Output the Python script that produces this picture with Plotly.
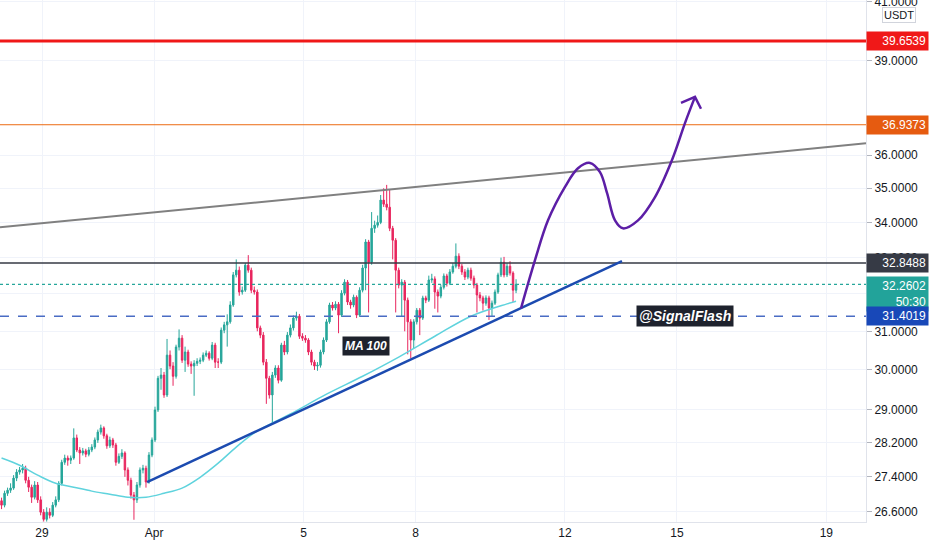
import numpy as np
import pandas as pd
import plotly.graph_objects as go

FONT = "Liberation Sans, Arial"

# 2h-ish candles, first one on Mar 27 late evening
candle_start = "2021-03-27 22:00"
candle_step = "116min"

opens = [
    26.85, 26.75, 27.02, 27.09, 27.14, 27.37, 27.51, 27.56, 27.60, 27.32, 27.16, 26.93,
    27.21, 26.87, 26.59, 26.43, 26.59, 26.52, 26.75, 26.87, 27.25, 27.74, 27.84, 27.79,
    27.84, 28.32, 28.03, 27.96, 28.01, 27.93, 28.03, 28.10, 28.27, 28.46, 28.56, 28.37,
    28.13, 28.27, 28.15, 27.74, 27.88, 27.96, 27.56, 27.32, 26.98, 26.87, 27.21, 27.56,
    27.60, 27.28, 27.91, 28.27, 29.00, 29.79, 29.87, 29.37, 30.38, 30.10, 29.84, 30.59,
    30.82, 30.25, 30.46, 30.15, 30.10, 30.17, 30.22, 30.25, 30.38, 30.43, 30.30, 30.64,
    30.20, 30.20, 31.03, 31.17, 31.25, 31.70, 32.52, 32.65, 32.05, 32.10, 32.79, 32.65,
    32.10, 32.05, 31.09, 30.90, 30.20, 29.79, 29.37, 29.87, 30.05, 29.74, 30.64, 30.46,
    30.90, 31.09, 31.35, 31.40, 30.87, 30.82, 30.77, 30.46, 30.20, 30.10, 30.12, 30.46,
    30.77, 31.25, 31.70, 31.62, 31.72, 31.43, 32.02, 32.32, 31.78, 31.70, 31.91, 31.43,
    32.10, 32.71, 33.44, 32.87, 33.83, 33.92, 34.00, 34.65, 34.53, 34.44, 33.83, 33.49,
    32.65, 32.24, 32.32, 31.83, 31.25, 30.77, 31.25, 31.56, 31.35, 31.89, 31.83, 32.38,
    32.41, 32.05, 31.94, 32.18, 32.49, 32.29, 32.60, 32.76, 33.04, 32.76, 32.60, 32.46,
    32.65, 32.43, 32.24, 31.97, 31.89, 31.75, 31.89, 31.62, 31.75, 32.05, 32.52, 32.87,
    32.52, 32.76, 32.57, 32.10,
]
highs = [
    26.92, 27.08, 27.15, 27.25, 27.44, 27.58, 27.63, 27.70, 27.66, 27.40, 27.22, 27.30,
    27.28, 26.95, 26.66, 26.70, 26.68, 26.82, 26.95, 27.30, 27.80, 27.92, 27.90, 27.90,
    28.55, 28.40, 28.10, 28.08, 28.06, 28.10, 28.17, 28.33, 28.52, 28.64, 28.60, 28.42,
    28.35, 28.32, 28.20, 27.95, 28.05, 28.00, 27.62, 27.38, 27.05, 27.28, 27.62, 27.68,
    27.66, 27.98, 28.33, 29.08, 29.85, 30.05, 29.95, 30.80, 30.50, 30.20, 30.65, 31.05,
    30.90, 30.60, 30.52, 30.22, 30.25, 30.30, 30.32, 30.45, 30.50, 30.48, 30.72, 30.70,
    30.30, 31.10, 31.25, 31.45, 31.80, 32.60, 32.95, 32.75, 32.20, 32.85, 33.07, 32.72,
    32.20, 32.12, 31.15, 30.98, 30.28, 29.85, 29.95, 30.12, 30.12, 30.70, 30.75, 30.98,
    31.18, 31.42, 31.52, 31.46, 30.95, 30.90, 30.82, 30.52, 30.26, 30.20, 30.52, 30.84,
    31.32, 31.76, 31.78, 31.80, 31.78, 32.10, 32.40, 32.38, 31.84, 31.98, 31.96, 32.18,
    32.80, 33.52, 33.50, 34.30, 34.05, 34.20, 34.80, 35.00, 35.10, 34.95, 33.90, 33.55,
    32.72, 32.40, 32.38, 31.90, 31.32, 31.32, 31.62, 31.62, 31.95, 31.95, 32.50, 32.55,
    32.48, 32.12, 32.25, 32.56, 32.55, 32.68, 32.85, 33.40, 33.12, 32.82, 32.68, 32.72,
    32.72, 32.50, 32.30, 32.05, 31.95, 31.96, 31.95, 31.82, 32.12, 32.58, 33.00, 33.02,
    32.85, 32.90, 32.62, 32.40,
]
lows = [
    26.66, 26.70, 26.96, 27.03, 27.10, 27.30, 27.45, 27.48, 27.25, 27.05, 26.80, 26.88,
    26.80, 26.52, 26.38, 26.38, 26.45, 26.48, 26.70, 26.82, 27.20, 27.68, 27.66, 27.70,
    27.80, 27.98, 27.70, 27.90, 27.86, 27.88, 27.98, 28.05, 28.20, 28.40, 28.30, 28.06,
    28.08, 28.08, 27.66, 27.70, 27.82, 27.40, 27.20, 26.90, 26.42, 26.80, 27.15, 27.48,
    27.15, 27.24, 27.86, 28.22, 28.95, 29.50, 29.30, 29.32, 30.02, 29.60, 29.78, 30.50,
    30.18, 29.95, 30.08, 29.90, 29.35, 30.10, 30.15, 30.20, 30.33, 30.24, 30.25, 30.05,
    30.05, 30.15, 30.95, 30.60, 31.20, 31.65, 32.45, 31.95, 31.98, 32.05, 32.58, 32.02,
    31.98, 31.00, 30.82, 30.12, 29.15, 29.28, 28.68, 29.80, 29.66, 29.70, 30.38, 30.40,
    30.84, 31.02, 31.28, 30.80, 30.75, 30.70, 30.38, 30.12, 30.00, 29.98, 30.06, 30.40,
    30.72, 31.20, 31.55, 31.56, 30.95, 31.38, 31.96, 31.70, 31.60, 31.64, 31.35, 31.38,
    32.04, 32.10, 31.50, 32.80, 33.70, 33.85, 33.95, 34.45, 34.35, 33.75, 32.95, 31.50,
    32.15, 31.40, 31.00, 30.40, 30.30, 30.55, 31.18, 30.90, 31.30, 31.75, 31.78, 32.30,
    31.60, 31.50, 31.88, 32.12, 32.20, 32.24, 32.55, 32.70, 32.68, 32.52, 32.38, 32.40,
    32.36, 32.15, 31.50, 31.80, 31.55, 31.68, 31.30, 31.40, 31.70, 32.00, 32.46, 32.45,
    32.46, 32.50, 31.78, 32.02,
]
closes = [
    26.75, 27.02, 27.09, 27.14, 27.37, 27.51, 27.56, 27.60, 27.32, 27.16, 26.93, 27.21,
    26.87, 26.59, 26.43, 26.59, 26.52, 26.75, 26.87, 27.25, 27.74, 27.84, 27.79, 27.84,
    28.32, 28.03, 27.96, 28.01, 27.93, 28.03, 28.10, 28.27, 28.46, 28.56, 28.37, 28.13,
    28.27, 28.15, 27.74, 27.88, 27.96, 27.56, 27.32, 26.98, 26.87, 27.21, 27.56, 27.60,
    27.28, 27.91, 28.27, 29.00, 29.79, 29.87, 29.37, 30.38, 30.10, 29.84, 30.59, 30.82,
    30.25, 30.46, 30.15, 30.10, 30.17, 30.22, 30.25, 30.38, 30.43, 30.30, 30.64, 30.20,
    30.20, 31.03, 31.17, 31.25, 31.70, 32.52, 32.65, 32.05, 32.10, 32.79, 32.65, 32.10,
    32.05, 31.09, 30.90, 30.20, 29.79, 29.37, 29.87, 30.05, 29.74, 30.64, 30.46, 30.90,
    31.09, 31.35, 31.40, 30.87, 30.82, 30.77, 30.46, 30.20, 30.10, 30.12, 30.46, 30.77,
    31.25, 31.70, 31.62, 31.72, 31.43, 32.02, 32.32, 31.78, 31.70, 31.91, 31.43, 32.10,
    32.71, 33.44, 32.87, 33.83, 33.92, 34.00, 34.65, 34.53, 34.44, 33.83, 33.49, 32.65,
    32.24, 32.32, 31.83, 31.25, 30.77, 31.25, 31.56, 31.35, 31.89, 31.83, 32.38, 32.41,
    32.05, 31.94, 32.18, 32.49, 32.29, 32.60, 32.76, 33.04, 32.76, 32.60, 32.46, 32.65,
    32.43, 32.24, 31.97, 31.89, 31.75, 31.89, 31.62, 31.75, 32.05, 32.52, 32.87, 32.52,
    32.76, 32.57, 32.10, 32.26,
]

# MA 100 at some candles
ma_idx = [0, 6, 12, 18, 24, 30, 36, 42, 48, 54, 60, 66, 72, 78, 84, 90, 96,
          108, 120, 132, 144, 156, 168, 171]
ma_vals = [27.84, 27.67, 27.44, 27.25, 27.16, 27.07, 27.00, 26.93, 26.93, 27.02,
           27.14, 27.39, 27.72, 28.10, 28.44, 28.68, 28.90, 29.39, 29.84, 30.33,
           30.87, 31.40, 31.73, 31.80]

# horizontal levels
red_level = 39.6539
orange_level = 36.9373
dark_level = 32.8488
last_price = 32.2602
blue_level = 31.4019
countdown = "50:30"

# drawings
x_start = "2021-03-27 21:00"
x_end = "2021-04-20 01:28"
channel_x = [x_start, x_end]
channel_y = [33.86, 36.36]
support_x = ["2021-03-31 19:30", "2021-04-13 12:40"]
support_y = [27.28, 32.90]
path_x = ["2021-04-10 19:47", "2021-04-11 04:46", "2021-04-11 13:08", "2021-04-12 00:03",
          "2021-04-12 08:24", "2021-04-12 16:08", "2021-04-12 22:32", "2021-04-13 03:03",
          "2021-04-13 08:11", "2021-04-13 13:19", "2021-04-13 22:58", "2021-04-14 09:53",
          "2021-04-14 20:49", "2021-04-15 05:09", "2021-04-15 11:35"]
path_y = [31.61, 32.93, 34.06, 35.04, 35.60, 35.76, 35.48, 34.86, 34.06, 33.83,
          34.06, 34.74, 35.85, 36.99, 37.82]
head_x = ["2021-04-15 02:35", "2021-04-15 11:35", "2021-04-15 15:26"]
head_y = [37.63, 37.82, 37.44]

y_ticks = [26.6, 27.4, 28.2, 29, 30, 31, 32, 33, 34, 35, 36, 39, 41]
x_ticks = ["2021-03-29", "2021-04-01", "2021-04-05", "2021-04-08",
           "2021-04-12", "2021-04-15", "2021-04-19"]
x_ticklabels = ["29", "Apr", "5", "8", "12", "15", "19"]

times = pd.date_range(candle_start, periods=len(closes), freq=candle_step)

fig = go.Figure()

fig.add_trace(go.Candlestick(
    x=times, open=opens, high=highs, low=lows, close=closes,
    increasing=dict(line=dict(color="#26a69a", width=1), fillcolor="#26a69a"),
    decreasing=dict(line=dict(color="#e8265e", width=1), fillcolor="#e8265e"),
    whiskerwidth=0, hoverinfo="skip",
))

fig.add_trace(go.Scatter(
    x=times[ma_idx], y=ma_vals, mode="lines",
    line=dict(color="#5fd3dd", width=1.5, shape="spline"), hoverinfo="skip",
))


def hline(level, color, width, dash="solid"):
    fig.add_trace(go.Scatter(
        x=[x_start, x_end], y=[level, level], mode="lines",
        line=dict(color=color, width=width, dash=dash), hoverinfo="skip",
    ))


hline(red_level, "#f01818", 3)
hline(orange_level, "#ec6a12", 1)
hline(dark_level, "#363a45", 1.3)
hline(last_price, "#26a69a", 1.2, "dot")
hline(blue_level, "#4a6cc4", 1.5, "dash")

fig.add_trace(go.Scatter(x=channel_x, y=channel_y, mode="lines",
                         line=dict(color="#808080", width=2), hoverinfo="skip"))
fig.add_trace(go.Scatter(x=support_x, y=support_y, mode="lines",
                         line=dict(color="#1c4bb0", width=2.5), hoverinfo="skip"))
fig.add_trace(go.Scatter(x=path_x, y=path_y, mode="lines",
                         line=dict(color="#5c1ea6", width=2.5, shape="spline"),
                         hoverinfo="skip"))
fig.add_trace(go.Scatter(x=head_x, y=head_y, mode="lines",
                         line=dict(color="#5c1ea6", width=2.5), hoverinfo="skip"))


def price_tag(level, text, bg, anchor="middle", shift=0):
    return dict(
        xref="paper", x=1, xanchor="left", yref="y", y=np.log10(level),
        yanchor=anchor, yshift=shift, text=text, showarrow=False,
        font=dict(family=FONT, size=12, color="white"),
        bgcolor=bg, borderpad=2, width=57, align="right",
    )


annotations = [
    price_tag(red_level, f"{red_level:.4f}", "#f01818"),
    price_tag(orange_level, f"{orange_level:.4f}", "#e65b10"),
    price_tag(dark_level, f"{dark_level:.4f}", "#363a45"),
    price_tag(last_price, f"{last_price:.4f}<br>{countdown}", "#22a39a", "top", 8),
    price_tag(blue_level, f"{blue_level:.4f}", "#1848b8"),
    dict(xref="paper", x=899 / 866, xanchor="center", yref="paper", y=1 - 15 / 522,
         yanchor="middle", text="USDT", showarrow=False,
         font=dict(family=FONT, size=11, color="#131722"),
         bgcolor="white", bordercolor="#d1d4dc", borderwidth=1, borderpad=1),
    dict(xref="paper", x=366 / 866, yref="paper", y=1 - 346 / 522, text="MA 100",
         showarrow=False, bgcolor="#1e222d", borderpad=2,
         font=dict(family=FONT, size=12, color="white", weight="bold", style="italic")),
    dict(xref="paper", x=734 / 866, yref="paper", y=1 - 316 / 522, text="@SignalFlash",
         showarrow=False, bgcolor="#1e222d", borderpad=2,
         font=dict(family=FONT, size=14, color="white", weight="bold", style="italic")),
]

fig.update_layout(
    width=932, height=550,
    margin=dict(l=0, r=66, t=0, b=28),
    paper_bgcolor="white", plot_bgcolor="white",
    showlegend=False,
    annotations=annotations,
    font=dict(family=FONT, size=12, color="#131722"),
    xaxis=dict(
        type="date", range=[x_start, x_end],
        rangeslider=dict(visible=False),
        tickvals=x_ticks, ticktext=x_ticklabels,
        showgrid=True, gridcolor="#f0f3fa", zeroline=False,
        showline=True, linecolor="#e0e3eb", ticks="",
        automargin=False,
        tickfont=dict(size=12, color="#131722"),
    ),
    yaxis=dict(
        type="log", side="right",
        range=[np.log10(26.37), np.log10(41.06)],
        tickvals=y_ticks, ticktext=[f"{v:.4f}" for v in y_ticks],
        showgrid=True, gridcolor="#f0f3fa", zeroline=False,
        showline=True, linecolor="#e0e3eb",
        ticks="outside", ticklen=5, tickcolor="#b2b5be",
        ticklabeloverflow="allow", automargin=False,
        tickfont=dict(size=12, color="#131722"),
    ),
)

# page body has an 8px default margin; drop it so the chart sits at 0,0
fig.write_html("out.html", config={"displayModeBar": False},
               post_script="document.body.style.margin='0';")
